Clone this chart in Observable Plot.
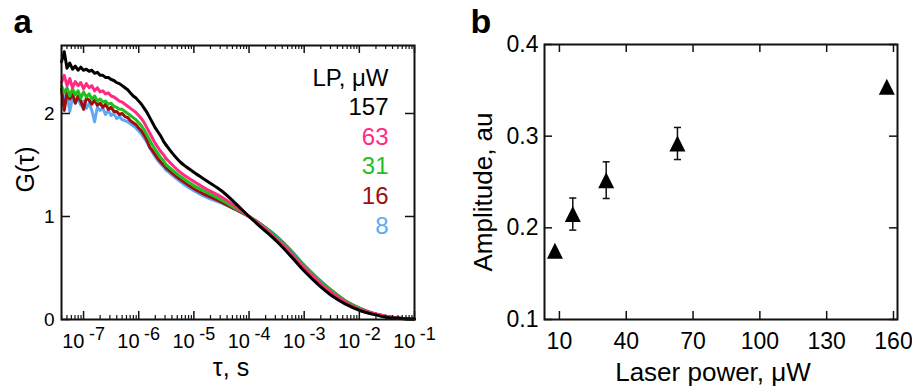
<!DOCTYPE html>
<html><head><meta charset="utf-8">
<script src="https://cdn.jsdelivr.net/npm/d3@7"></script>
<script src="https://cdn.jsdelivr.net/npm/@observablehq/plot@0.6"></script>
<style>
html,body{margin:0;padding:0;background:#fff;}
#wrap{position:relative;width:912px;height:389px;font-family:"Liberation Sans",Arial,sans-serif;}
#pa,#pb{position:absolute;top:0;}
#pa{left:0;} #pb{left:440px;}
</style></head><body><div id="wrap"><div id="pa"></div><div id="pb"></div></div>
<script>
// ---------- Panel a data (log10 of tau, and G(tau) per laser power) ----------
const tauExp = [-7.4,-7.35,-7.3,-7.25,-7.2,-7.15,-7.1,-7.05,-7.0,-6.95,-6.9,-6.85,-6.8,-6.75,-6.7,-6.65,-6.6,-6.55,-6.5,-6.45,
  -6.4,-6.35,-6.3,-6.25,-6.2,-6.15,-6.1,-6.05,-6.0,-5.95,-5.9,-5.85,-5.8,-5.75,-5.7,-5.65,-5.6,-5.55,-5.5,
  -5.25,-5.0,-4.75,-4.5,-4.25,-4.0,-3.75,-3.5,-3.25,-3.0,-2.75,-2.5,-2.25,-2.0,-1.75,-1.5,-1.25,-1.0];
const g157 = [2.50,2.60,2.44,2.49,2.43,2.46,2.42,2.45,2.42,2.43,2.41,2.42,2.39,2.40,2.37,2.37,2.35,2.35,2.33,2.32,
  2.30,2.29,2.27,2.25,2.23,2.20,2.17,2.15,2.12,2.09,2.05,2.01,1.96,1.91,1.86,1.82,1.78,1.73,1.69,
  1.53,1.43,1.34,1.25,1.13,1.00,0.88,0.76,0.62,0.47,0.34,0.23,0.15,0.09,0.05,0.02,0.01,0.005];
const g63 = [2.30,2.37,2.27,2.34,2.25,2.31,2.27,2.30,2.24,2.29,2.25,2.27,2.22,2.25,2.21,2.22,2.19,2.20,2.17,2.16,
  2.14,2.12,2.11,2.09,2.07,2.05,2.03,2.01,1.98,1.95,1.91,1.86,1.81,1.76,1.71,1.67,1.63,1.60,1.56,
  1.43,1.34,1.26,1.19,1.10,1.00,0.90,0.78,0.65,0.50,0.37,0.26,0.17,0.10,0.06,0.03,0.012,0.006];
const g31 = [2.27,2.20,2.25,2.17,2.24,2.18,2.22,2.15,2.21,2.16,2.19,2.14,2.17,2.12,2.14,2.11,2.12,2.09,2.10,2.07,
  2.06,2.04,2.04,2.02,2.00,1.98,1.96,1.94,1.91,1.88,1.84,1.79,1.74,1.69,1.65,1.61,1.57,1.54,1.50,
  1.39,1.30,1.23,1.16,1.08,1.00,0.91,0.80,0.67,0.52,0.39,0.28,0.18,0.11,0.06,0.03,0.013,0.006];
const g16 = [2.24,2.03,2.20,2.14,2.19,2.10,2.17,2.12,2.04,2.15,2.13,2.09,2.13,2.08,2.10,2.06,2.09,2.04,2.06,2.02,
  2.02,1.99,2.00,1.97,1.96,1.93,1.91,1.89,1.86,1.83,1.79,1.74,1.67,1.64,1.60,1.56,1.53,1.50,1.47,
  1.36,1.27,1.20,1.14,1.07,1.00,0.91,0.80,0.67,0.52,0.39,0.28,0.18,0.11,0.06,0.03,0.013,0.006];
const g8 = [2.22,2.14,2.19,2.02,2.16,2.10,2.15,2.08,2.12,2.05,2.10,2.03,1.92,2.06,2.03,2.05,1.99,2.03,1.98,2.00,
  1.95,1.97,1.94,1.93,1.92,1.90,1.88,1.86,1.83,1.80,1.76,1.72,1.67,1.62,1.58,1.54,1.51,1.48,1.45,
  1.34,1.25,1.18,1.13,1.07,1.00,0.91,0.81,0.68,0.53,0.40,0.28,0.18,0.11,0.06,0.03,0.013,0.006];
const seriesLabels = ["8","16","31","63","157"];          // drawing order (bottom to top)
const seriesColors = ["#5fa8f5","#a00d0d","#1fbf1f","#ff2a82","#000000"];
const legendTitle = "LP, μW";
const legendOrder = ["157","63","31","16","8"];
const gTicks = [0,1,2];
const tauTickExp = [-7,-6,-5,-4,-3,-2,-1];
const noisyUntil = -5.5;   // log10 tau where the noisy early part ends
const xTitleA = "τ, s";
const yTitleA = "G(τ)";
const panelA = "a";

// ---------- Panel b data ----------
const power = [8,16,31,63,157];
const amplitude = [0.175,0.215,0.252,0.292,0.354];
const ampErr = [0,0.0175,0.020,0.0175,0];
const powerTicks = [10,40,70,100,130,160];
const ampTicks = [0.1,0.2,0.3,0.4];
const xTitleB = "Laser power, μW";
const yTitleB = "Amplitude, au";
const panelB = "b";

const FONT = '"Liberation Sans", Arial, sans-serif';
const seriesValues = {"157": g157, "63": g63, "31": g31, "16": g16, "8": g8};

function forceTickFont(svg, selector, size) {
  svg.querySelectorAll(selector).forEach(g => {
    g.setAttribute("font-size", size);
    g.style.fontSize = size + "px";
    g.querySelectorAll("text").forEach(t => { t.style.fontSize = size + "px"; });
  });
}

// ---------- Panel a ----------
const rowsA = [];
seriesLabels.forEach(s => tauExp.forEach((e, i) => rowsA.push({tau: Math.pow(10, e), e, g: seriesValues[s][i], s})));
const noisyRows = rowsA.filter(d => d.e <= noisyUntil);
const smoothRows = rowsA.filter(d => d.e >= noisyUntil);
const majorX = tauTickExp.map(k => Math.pow(10, k));
const minorX = [];
for (let k = -8; k <= -2; k++) for (let m = 2; m <= 9; m++) {
  const v = m * Math.pow(10, k);
  if (v > Math.pow(10, -7.4) && v < 0.1) minorX.push(v);
}
const colorOf = Object.fromEntries(seriesLabels.map((s, i) => [s, seriesColors[i]]));
const legendRows = [{t: legendTitle, c: "#000"}].concat(legendOrder.map(s => ({t: s, c: colorOf[s]})));

const WA = 440, HA = 389, mLA = 61, mRA = 26, mTA = 45, mBA = 70;
const phA = HA - mTA - mBA, pwA = WA - mLA - mRA;

const marksA = [];
seriesLabels.forEach(s => {
  marksA.push(Plot.line(noisyRows.filter(d => d.s === s), {x: "tau", y: "g", stroke: "s", strokeWidth: 3, strokeLinejoin: "round"}));
  marksA.push(Plot.line(smoothRows.filter(d => d.s === s), {x: "tau", y: "g", stroke: "s", strokeWidth: 3, strokeLinejoin: "round", curve: "catmull-rom"}));
});
marksA.push(
  Plot.frame({stroke: "#111", strokeWidth: 2}),
  Plot.tickX(majorX, {x: d => d, insetTop: phA - 8, stroke: "#111", strokeWidth: 1.5}),
  Plot.tickX(majorX, {x: d => d, insetBottom: phA - 8, stroke: "#111", strokeWidth: 1.5}),
  Plot.tickX(minorX, {x: d => d, insetTop: phA - 4, stroke: "#111", strokeWidth: 1.2}),
  Plot.tickX(minorX, {x: d => d, insetBottom: phA - 4, stroke: "#111", strokeWidth: 1.2}),
  Plot.tickY(gTicks, {y: d => d, insetRight: pwA - 9, stroke: "#111", strokeWidth: 1.5}),
  Plot.tickY(gTicks, {y: d => d, insetLeft: pwA - 9, stroke: "#111", strokeWidth: 1.5}),
  Plot.axisX({ticks: majorX, tickFormat: d => "10^" + Math.round(Math.log10(d)), tickSize: 0, tickPadding: 14, fontSize: 20, label: null}),
  Plot.axisY({ticks: gTicks, tickFormat: d => String(d), tickSize: 0, tickPadding: 7, fontSize: 19, label: null}),
  Plot.text([yTitleA], {frameAnchor: "left", text: d => d, rotate: -90, textAnchor: "middle", dx: -36, dy: -13, fontSize: 25}),
  Plot.text([xTitleA], {frameAnchor: "bottom", text: d => d, textAnchor: "middle", lineAnchor: "bottom", dx: -7, dy: 56, fontSize: 25}),
  Plot.text([panelA], {frameAnchor: "top-left", text: d => d, lineAnchor: "bottom", textAnchor: "start", dx: -48, dy: -13, fontSize: 33, fontWeight: "bold"})
);
legendRows.forEach((r, i) => {
  marksA.push(Plot.text([r], {frameAnchor: "top-right", text: d => d.t, fill: r.c, textAnchor: "end", lineAnchor: "bottom",
    dx: -26, dy: 40 + i * 29.6, fontSize: 24}));
});

const chartA = Plot.plot({
  width: WA, height: HA, marginLeft: mLA, marginRight: mRA, marginTop: mTA, marginBottom: mBA,
  style: {fontFamily: FONT, fontSize: "19px", color: "#000", background: "white", overflow: "visible"},
  x: {type: "log", domain: [Math.pow(10, -7.4), 0.1]},
  y: {domain: [0, 2.66]},
  color: {domain: seriesLabels, range: seriesColors},
  marks: marksA
});
forceTickFont(chartA, 'g[aria-label="x-axis tick label"]', 20);
forceTickFont(chartA, 'g[aria-label="y-axis tick label"]', 19);
chartA.querySelectorAll("text").forEach(t => {
  const m = /^10\^(-?\d+)$/.exec(t.textContent);
  if (!m) return;
  t.textContent = "10";
  const sp = document.createElementNS("http://www.w3.org/2000/svg", "tspan");
  sp.setAttribute("dy", "-0.45em");
  sp.setAttribute("dx", "0.25em");
  sp.style.fontSize = "18px";
  sp.textContent = m[1];
  t.appendChild(sp);
});
document.getElementById("pa").appendChild(chartA);

// ---------- Panel b ----------
const rowsB = power.map((p, i) => ({p, a: amplitude[i], e: ampErr[i]}));
const errRows = rowsB.filter(d => d.e > 0);
const capSymbol = {draw(ctx, size) { const w = Math.sqrt(size) / 2; ctx.moveTo(-w, 0); ctx.lineTo(w, 0); }};
const triSymbol = {draw(ctx, size) { const r = Math.sqrt(size / Math.PI); ctx.moveTo(0, -r); ctx.lineTo(r, r); ctx.lineTo(-r, r); ctx.closePath(); }};

const WB = 472, HB = 389, mLB = 104, mRB = 15, mTB = 44, mBB = 70;
const phB = HB - mTB - mBB, pwB = WB - mLB - mRB;

const chartB = Plot.plot({
  width: WB, height: HB, marginLeft: mLB, marginRight: mRB, marginTop: mTB, marginBottom: mBB,
  style: {fontFamily: FONT, fontSize: "22px", color: "#000", background: "white", overflow: "visible"},
  x: {domain: [3.3, 161.8]},
  y: {domain: [0.1, 0.4]},
  marks: [
    Plot.frame({stroke: "#111", strokeWidth: 2}),
    Plot.tickX(powerTicks, {x: d => d, insetTop: phB - 8, stroke: "#111", strokeWidth: 1.5}),
    Plot.tickX(powerTicks, {x: d => d, insetBottom: phB - 8, stroke: "#111", strokeWidth: 1.5}),
    Plot.tickY(ampTicks, {y: d => d, insetRight: pwB - 8, stroke: "#111", strokeWidth: 1.5}),
    Plot.tickY(ampTicks, {y: d => d, insetLeft: pwB - 8, stroke: "#111", strokeWidth: 1.5}),
    Plot.axisX({ticks: powerTicks, tickFormat: d => String(d), tickSize: 0, tickPadding: 13, fontSize: 23, label: null}),
    Plot.axisY({ticks: ampTicks, tickFormat: d3.format(".1f"), tickSize: 0, tickPadding: 6, fontSize: 23, label: null}),
    Plot.ruleX(errRows, {x: "p", y1: d => d.a - d.e, y2: d => d.a + d.e, stroke: "#111", strokeWidth: 1.5}),
    Plot.dot(errRows, {x: "p", y: d => d.a + d.e, symbol: capSymbol, r: 4, stroke: "#111", strokeWidth: 1.5}),
    Plot.dot(errRows, {x: "p", y: d => d.a - d.e, symbol: capSymbol, r: 4, stroke: "#111", strokeWidth: 1.5}),
    Plot.dot(rowsB, {x: "p", y: "a", symbol: triSymbol, r: 8, fill: "#000", stroke: "none"}),
    Plot.text([yTitleB], {frameAnchor: "left", text: d => d, rotate: -90, textAnchor: "middle", dx: -61, dy: 10, fontSize: 26}),
    Plot.text([xTitleB], {frameAnchor: "bottom", text: d => d, textAnchor: "middle", lineAnchor: "bottom", dx: -8, dy: 61, fontSize: 26}),
    Plot.text([panelB], {frameAnchor: "top-left", text: d => d, lineAnchor: "bottom", textAnchor: "start", dx: -74, dy: -12, fontSize: 34, fontWeight: "bold"})
  ]
});
forceTickFont(chartB, 'g[aria-label$="tick label"]', 23);
document.getElementById("pb").appendChild(chartB);
</script>
</body></html>
